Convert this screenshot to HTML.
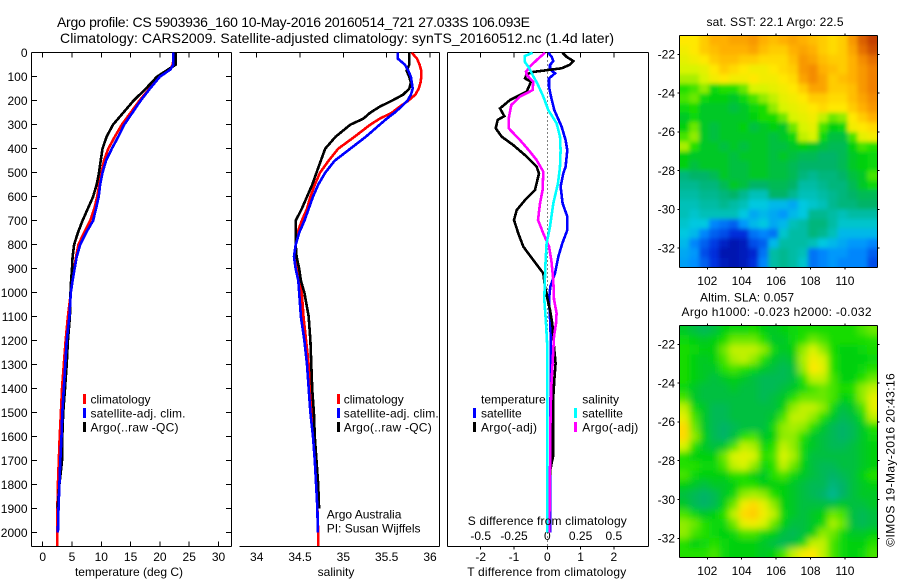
<!DOCTYPE html>
<html lang="en">
<head>
<meta charset="utf-8">
<title>Argo profile chart</title>
<style>
  html, body { margin: 0; padding: 0; background: #fff; }
  body { width: 900px; height: 580px; overflow: hidden; }
  svg { display: block; font-family: "Liberation Sans", sans-serif; fill: #000; }
  text { font-size: 12px; fill: #000; }
  .title { font-size: 14px; }
  .frame { stroke: #000; stroke-width: 1; shape-rendering: crispEdges; fill: none; }
</style>
</head>
<body>
<svg id="chart" xmlns="http://www.w3.org/2000/svg" width="900" height="580" viewBox="0 0 900 580">
  <rect x="0" y="0" width="900" height="580" fill="#fff"/>

  <text class="title" x="57" y="27" textLength="473">Argo profile: CS 5903936_160 10-May-2016 20160514_721 27.033S 106.093E</text>
  <text class="title" x="60" y="43" textLength="554">Climatology: CARS2009. Satellite-adjusted climatology: synTS_20160512.nc (1.4d later)</text>

  <g id="temp-panel"></g>
  <g id="sal-panel"></g>
  <g id="diff-panel"></g>

  <clipPath id="sst-clip"><rect x="679.5" y="35.5" width="198" height="232"/></clipPath>
  <clipPath id="sla-clip"><rect x="679.5" y="325.5" width="198" height="232"/></clipPath>
  <filter id="sst-blur" filterUnits="userSpaceOnUse" x="640" y="0" width="260" height="300"><feGaussianBlur stdDeviation="2.2"/></filter>
  <filter id="sla-blur" filterUnits="userSpaceOnUse" x="640" y="290" width="260" height="290"><feGaussianBlur stdDeviation="3.5"/></filter>
  <g clip-path="url(#sst-clip)"><g id="sst-cells" filter="url(#sst-blur)"></g></g>
  <g clip-path="url(#sla-clip)"><g id="sla-cells" filter="url(#sla-blur)"></g></g>
  <g id="map-axes"></g>

  <!-- temperature legend -->
  <g>
    <rect x="83" y="394" width="3" height="10" fill="#ff0000"/>
    <text x="90.5" y="403.3">climatology</text>
    <rect x="83" y="408" width="3" height="10" fill="#0000ff"/>
    <text x="90.5" y="417.3" textLength="95">satellite-adj. clim.</text>
    <rect x="83" y="422" width="3" height="10" fill="#000"/>
    <text x="90.5" y="431.3" textLength="88">Argo(..raw -QC)</text>
  </g>

  <!-- salinity legend -->
  <g>
    <rect x="337" y="394" width="3" height="10" fill="#ff0000"/>
    <text x="343.7" y="403.3">climatology</text>
    <rect x="337" y="408" width="3" height="10" fill="#0000ff"/>
    <text x="343.7" y="417.3" textLength="95">satellite-adj. clim.</text>
    <rect x="337" y="422" width="3" height="10" fill="#000"/>
    <text x="343.7" y="431.3" textLength="88">Argo(..raw -QC)</text>
    <text x="326.7" y="518.3">Argo Australia</text>
    <text x="326.7" y="532.3">PI: Susan Wijffels</text>
  </g>

  <!-- difference legend -->
  <g>
    <text x="481" y="403.3">temperature</text>
    <rect x="473" y="408" width="3" height="10" fill="#0000ff"/>
    <text x="481" y="417.3">satellite</text>
    <rect x="473" y="422" width="3" height="10" fill="#000"/>
    <text x="481" y="431.3" textLength="56">Argo(-adj)</text>
    <text x="582.3" y="403.3">salinity</text>
    <rect x="574" y="408" width="3" height="10" fill="#00ffff"/>
    <text x="582.3" y="417.3">satellite</text>
    <rect x="574" y="422" width="3" height="10" fill="#ff00ff"/>
    <text x="582.3" y="431.3" textLength="56">Argo(-adj)</text>
  </g>

  <text x="129" y="576" text-anchor="middle">temperature (deg C)</text>
  <text x="336" y="576" text-anchor="middle">salinity</text>
  <text x="547.3" y="525" text-anchor="middle" textLength="159">S difference from climatology</text>
  <text x="546.7" y="576" text-anchor="middle" textLength="159">T difference from climatology</text>

  <text x="775" y="26" text-anchor="middle" textLength="137">sat. SST: 22.1 Argo: 22.5</text>
  <text x="747" y="301.5" text-anchor="middle" textLength="94">Altim. SLA: 0.057</text>
  <text x="776.5" y="316" text-anchor="middle" textLength="190">Argo h1000: -0.023 h2000: -0.032</text>
  <text transform="translate(894.3,546.7) rotate(-90)" textLength="173.4">©IMOS 19-May-2016 20:43:16</text>
</svg>

<script>
// ---------- profile data ----------
const tempDepths = [0,25,50,70,100,150,200,250,300,350,400,450,500,550,600,650,700,750,800,850,900,950,1000,1100,1200,1300,1400,1500,1600,1700,1800,1900,2000];
const tempClimatology = [22.3,22.3,22.2,21.7,20,18.2,16.5,15,13.5,12.3,11.2,10.45,10.05,9.65,9.3,8.8,8.1,7.05,6.1,5.7,5.35,5.05,4.8,4.3,3.9,3.6,3.3,3.1,2.9,2.75,2.6,2.5,2.45];
const tempSatellite = [22.3,22.3,22.3,21.8,20,18.3,16.7,15.3,13.9,12.9,11.8,10.8,10.2,9.8,9.55,9.1,8.6,7.4,6.4,5.8,5.45,5.1,4.8,4.55,4.1,3.85,3.6,3.35,3.2,3,2.85,2.7,2.6];
const tempArgo = [22.7,22.7,22.7,21.4,19.5,17.6,15.5,13.75,12,10.9,10.2,9.9,9.6,9.2,8.6,7.7,6.8,6,5.35,5.1,5,4.85,4.75,4.65,4.3,4.1,3.8,3.5,3.35,3.3,2.85,2.55];
const tempClimEndDepth = 2055;
const tempClimEndValue = 2.45;

const salDepths = [0,25,50,75,100,125,150,175,200,225,250,275,300,350,400,450,500,550,600,650,700,750,800,850,900,950,1000,1100,1200,1300,1400,1500,1600,1700,1800,1900,2000];
const salClimatology = [35.79,35.85,35.88,35.9,35.9,35.89,35.87,35.83,35.75,35.65,35.56,35.42,35.31,35.13,34.94,34.83,34.73,34.67,34.62,34.58,34.52,34.47,34.45,34.45,34.48,34.5,34.52,34.54,34.57,34.6,34.62,34.635,34.66,34.68,34.69,34.7,34.71];
const salSatellite = [35.63,35.63,35.71,35.75,35.78,35.79,35.8,35.78,35.74,35.67,35.59,35.5,35.42,35.26,35.08,34.9,34.79,34.71,34.65,34.6,34.55,34.49,34.45,34.43,34.45,34.48,34.49,34.51,34.55,34.58,34.6,34.62,34.65,34.67,34.685,34.7,34.705];
const salArgo = [35.76,35.76,35.76,35.73,35.76,35.78,35.76,35.69,35.56,35.42,35.31,35.23,35.08,34.91,34.79,34.74,34.69,34.64,34.58,34.52,34.45,34.45,34.45,34.46,34.49,34.51,34.55,34.6,34.62,34.63,34.64,34.66,34.67,34.69,34.71,34.72];
const salClimEndDepth = 2055;
const salClimEndValue = 34.71;

const diffTArgoDepths = [0,17,35,50,65,80,90,107,121,162,197,232,264,280,315,350,385,433,475,503,572,614,656,697,753,808,864,919,975,1028,1072,1128,1225,1294,1364,1433,1503,1572,1683,1711,1739,1800,1900];
const diffTArgo = [0.45,0.58,0.78,0.68,0.43,-0.42,-0.62,-0.67,-0.49,-0.62,-1.12,-1.42,-1.29,-1.49,-1.55,-1.37,-1.02,-0.62,-0.32,-0.25,-0.37,-0.67,-0.92,-1,-0.87,-0.72,-0.42,-0.12,-0.07,0.01,0.08,0.15,0.2,0.25,0.21,0.18,0.17,0.17,0.17,0.13,0.09,0.06,0.05];
const diffTSatDepths = [0,17,35,51,69,86,107,142,183,239,308,364,406,475,503,558,628,683,739,794,850,919,975,1028,1128,1225,1364,1475,1572,1711,1850,2000];
const diffTSat = [0.03,0.13,0.18,0.08,0.08,0.23,0.05,0.05,0.11,0.21,0.43,0.55,0.6,0.55,0.48,0.4,0.46,0.6,0.6,0.45,0.33,0.23,0.09,0.05,0.09,0.11,0.11,0.09,0.09,0.09,0.09,0.09];
const diffSArgoDepths = [0,31,58,79,93,121,156,183,218,274,315,364,406,447,496,572,628,697,753,808,864,947,1028,1086,1128,1183,1294,1392,1503,1614,1697,1781,2000];
const diffSArgo = [-0.0175,-0.08,-0.13,-0.16,-0.155,-0.105,-0.11,-0.205,-0.27,-0.29,-0.29,-0.205,-0.14,-0.08,-0.03,-0.035,-0.055,-0.07,-0.03,0.0125,0.03,0.045,0.05,0.07,0.065,0.05,0.04,0.03,0.025,0.022,0.022,0.018,0.015];
const diffSSatDepths = [0,14,37,65,93,128,183,239,294,350,406,475,544,628,725,794,892,1028,1128,1225,1500,2000];
const diffSSat = [-0.11,-0.17,-0.17,-0.135,-0.11,-0.075,-0.03,0.0075,0.07,0.095,0.1,0.095,0.08,0.045,0.02,-0.005,-0.015,-0.0225,-0.01,0,0,0];

// ---------- tick labels ----------
const depthTicks = [0,100,200,300,400,500,600,700,800,900,1000,1100,1200,1300,1400,1500,1600,1700,1800,1900,2000];
const tempTicks = [0,5,10,15,20,25,30];
const salTicks = [34,34.5,35,35.5,36];
const diffTTicks = [-2,-1,0,1,2];
const diffSTicks = [-0.5,-0.25,0,0.25,0.5];
const mapLonTicks = [102,104,106,108,110];
const mapLatTicks = [-22,-24,-26,-28,-30,-32];

// ---------- map data (colour index 0-100, rows north to south) ----------
const sstGrid = [
[74,74,78,82,82,84,84,86,82,80,82,84,82,80,78,76,78,86,94,98],
[72,74,78,80,82,82,82,84,80,78,78,82,84,82,78,76,78,84,92,96],
[70,72,74,78,80,80,78,78,76,76,76,80,86,84,80,78,78,82,88,92],
[68,68,70,74,78,76,74,72,72,74,76,78,86,88,82,80,78,82,86,90],
[64,64,68,72,74,72,72,74,72,72,74,76,84,88,84,78,80,82,86,90],
[56,58,62,54,56,56,60,68,68,70,72,74,78,84,84,78,78,80,86,90],
[58,60,54,52,52,50,54,58,62,66,70,72,74,78,78,76,76,80,84,88],
[54,55,50,50,50,48,50,54,55,62,68,70,72,74,76,74,74,78,82,86],
[50,54,50,50,50,50,50,52,55,55,60,68,70,72,66,60,62,74,78,82],
[52,60,50,48,50,50,52,48,50,52,50,60,68,70,58,52,54,72,74,76],
[58,62,50,48,50,50,50,50,50,48,50,54,66,68,54,48,48,58,70,72],
[64,56,50,50,48,50,48,50,50,48,48,50,52,50,48,46,46,52,58,56],
[52,50,50,50,50,48,50,50,50,48,50,48,46,46,44,44,46,50,52,54],
[52,48,50,50,50,48,48,50,50,48,48,46,44,44,44,44,46,50,52,54],
[42,44,44,46,50,48,48,50,50,48,48,46,42,40,42,42,44,48,50,58],
[40,40,42,42,46,50,48,44,44,46,46,44,38,38,40,42,42,46,50,54],
[38,38,40,40,42,44,40,36,36,44,44,40,36,36,38,40,42,44,46,46],
[36,36,38,38,40,38,36,32,32,30,30,28,32,34,36,40,42,42,44,44],
[36,34,36,36,36,36,32,28,30,28,26,30,32,40,40,38,36,38,38,38],
[34,32,32,24,22,20,26,30,32,28,30,36,38,42,42,38,34,34,34,34],
[32,30,24,20,18,14,14,22,24,22,34,38,38,42,40,36,30,30,30,30],
[30,24,20,16,10,6,8,18,20,30,38,38,38,36,32,30,28,26,26,24],
[28,26,18,14,6,6,8,12,22,38,40,38,36,22,24,26,26,24,24,20],
[27,25,20,15,8,6,8,14,24,38,40,38,34,22,24,26,24,24,24,18]
];
const slaGrid = [
[50,48,46,48,52,54,54,55,52,50,52,54,55,55,55,55,55,55,58,60],
[54,52,50,52,55,60,60,60,56,50,50,54,56,60,58,55,55,55,55,56],
[55,54,52,52,60,66,66,66,62,54,50,52,62,68,62,55,52,52,54,55],
[55,52,50,52,58,64,66,62,56,50,48,50,64,72,68,56,52,52,52,54],
[55,52,50,50,56,58,56,54,50,48,46,48,62,74,70,56,52,52,54,56],
[55,52,50,48,50,52,50,48,46,46,46,48,56,66,66,58,52,52,56,60],
[54,50,48,48,48,50,48,48,46,46,48,50,54,58,60,58,55,56,62,66],
[58,50,48,48,48,48,48,48,46,48,50,56,60,60,60,58,52,54,62,70],
[66,54,50,46,46,48,48,48,48,48,52,62,66,66,62,54,48,50,58,70],
[70,58,50,46,46,48,48,48,48,50,58,66,66,62,56,50,46,48,54,66],
[76,60,50,46,44,46,48,48,48,54,62,64,62,56,50,46,44,46,50,56],
[76,62,52,46,44,48,56,58,50,52,62,62,56,50,48,46,44,46,50,54],
[68,56,50,48,50,58,66,64,54,56,66,62,54,50,48,46,46,48,50,52],
[56,52,52,52,60,68,70,68,56,58,68,64,54,48,48,48,48,48,50,52],
[56,56,54,54,58,66,68,62,54,56,66,60,52,48,46,46,48,48,50,52],
[58,54,52,52,52,56,56,52,50,56,58,54,50,48,46,44,46,48,52,56],
[52,50,48,50,50,52,56,56,52,52,52,50,48,46,46,42,44,48,50,52],
[48,46,44,46,50,54,62,64,62,56,52,50,48,46,44,40,44,48,50,50],
[50,46,44,46,52,60,72,76,70,62,52,50,48,48,48,48,50,48,48,50],
[58,54,50,52,56,66,76,78,72,66,54,50,48,50,52,60,58,48,46,48],
[62,60,56,54,54,60,70,72,68,60,52,48,48,50,54,64,60,48,46,48],
[62,58,56,54,52,54,58,58,54,52,48,46,48,52,62,60,54,50,50,52],
[56,52,54,56,54,52,52,52,50,48,46,48,54,66,66,58,54,52,52,56],
[56,56,56,58,54,52,52,52,50,52,58,66,72,74,66,58,54,52,54,58]
];
const colorStopValues = [0,15,25,32,40,44,48,52,56,62,68,74,82,90,100];
const colorStopHex = ['#000090','#0030e0','#0090ff','#00c8e0','#00b890','#00b468','#00c040','#00d010','#20e000','#90ec00','#d8f400','#ffe800','#ffb000','#f08000','#b83000'];

// ---------- scales ----------
const yDepth = d => 52.7 + d * 0.24;
const xTemp = t => 42.7 + t * 5.86;
const xSal = s => 256.7 + (s - 34) * 86.65;
const xDiffT = t => 547.3 + t * 33.3;
const xDiffS = s => 547.3 + s * 133.2;
const xLon = lon => 707.3 + (lon - 102) * 17.2;
const ySst = lat => 54.3 + (-22 - lat) * 19.37;
const ySla = lat => 344.3 + (-22 - lat) * 19.4;
const lonWest = 100.37, lonEast = 111.88, latNorth = -21.02, latSouth = -33;

const NS = 'http://www.w3.org/2000/svg';
const root = document.getElementById('chart');
const tempPanel = document.getElementById('temp-panel');
const salPanel = document.getElementById('sal-panel');
const diffPanel = document.getElementById('diff-panel');
const mapAxes = document.getElementById('map-axes');

function line(parent, x1, y1, x2, y2) {
  const el = document.createElementNS(NS, 'line');
  el.setAttribute('x1', x1); el.setAttribute('y1', y1);
  el.setAttribute('x2', x2); el.setAttribute('y2', y2);
  el.setAttribute('stroke', '#000');
  el.setAttribute('shape-rendering', 'crispEdges');
  parent.appendChild(el);
  return el;
}
function label(parent, x, y, str, anchor) {
  const el = document.createElementNS(NS, 'text');
  el.setAttribute('x', x); el.setAttribute('y', y);
  el.setAttribute('text-anchor', anchor);
  el.textContent = str;
  parent.appendChild(el);
  return el;
}
function profile(parent, xf, values, depths, color) {
  const el = document.createElementNS(NS, 'polyline');
  el.setAttribute('points', values.map((v, i) => xf(v).toFixed(1) + ',' + yDepth(depths[i]).toFixed(1)).join(' '));
  el.setAttribute('fill', 'none');
  el.setAttribute('stroke', color);
  el.setAttribute('stroke-width', '2.6');
  el.setAttribute('shape-rendering', 'crispEdges');
  parent.appendChild(el);
  return el;
}
function markTick(el) {
  
  
}
function markLabel(el) {
  
  
}
function markFrame(el) {
  
  
}
function markLine(el, name) {
  
  
}

const plotTop = 52.5, plotBottom = 546.5;

// temperature panel frame and axes
[[31.5,plotTop,231.5,plotTop],[31.5,plotBottom,231.5,plotBottom],[31.5,plotTop,31.5,plotBottom],[231.5,plotTop,231.5,plotBottom]].forEach(s => markFrame(line(tempPanel, s[0], s[1], s[2], s[3])));
depthTicks.forEach(d => {
  markTick(line(tempPanel, 31.5, yDepth(d), 37, yDepth(d)));
  markTick(line(tempPanel, 226, yDepth(d), 231.5, yDepth(d)));
  markLabel(label(tempPanel, 27.5, yDepth(d) + 4.3, String(d), 'end'));
});
tempTicks.forEach(t => {
  markTick(line(tempPanel, xTemp(t), plotTop, xTemp(t), plotTop + 5));
  markTick(line(tempPanel, xTemp(t), plotBottom - 5, xTemp(t), plotBottom));
  markLabel(label(tempPanel, xTemp(t), 561, String(t), 'middle'));
});
markLine(profile(tempPanel, xTemp, tempClimatology.concat([tempClimEndValue]), tempDepths.concat([tempClimEndDepth]), '#ff0000'), 'temperature-climatology-line');
markLine(profile(tempPanel, xTemp, tempArgo, tempDepths, '#000000'), 'temperature-argo-line');
markLine(profile(tempPanel, xTemp, tempSatellite, tempDepths, '#0000ff'), 'temperature-satellite-line');

// salinity panel (no left edge in the reference)
[[239.5,plotTop,439.5,plotTop],[239.5,plotBottom,439.5,plotBottom],[439.5,plotTop,439.5,plotBottom]].forEach(s => markFrame(line(salPanel, s[0], s[1], s[2], s[3])));
salTicks.forEach(s => {
  markTick(line(salPanel, xSal(s), plotTop, xSal(s), plotTop + 5));
  markLabel(label(salPanel, xSal(s), 561, String(s), 'middle'));
});
markLine(profile(salPanel, xSal, salClimatology.concat([salClimEndValue]), salDepths.concat([salClimEndDepth]), '#ff0000'), 'salinity-climatology-line');
markLine(profile(salPanel, xSal, salArgo, salDepths, '#000000'), 'salinity-argo-line');
markLine(profile(salPanel, xSal, salSatellite, salDepths, '#0000ff'), 'salinity-satellite-line');

// difference panel
[[447.5,plotTop,648.5,plotTop],[447.5,plotBottom,648.5,plotBottom],[447.5,plotTop,447.5,plotBottom],[648.5,plotTop,648.5,plotBottom]].forEach(s => markFrame(line(diffPanel, s[0], s[1], s[2], s[3])));
const zeroLine = line(diffPanel, xDiffT(0), plotTop, xDiffT(0), plotBottom);
zeroLine.setAttribute('stroke-dasharray', '1 3');


diffTTicks.forEach(t => {
  markTick(line(diffPanel, xDiffT(t), plotTop, xDiffT(t), plotTop + 5));
  markTick(line(diffPanel, xDiffT(t), plotBottom, xDiffT(t), plotBottom + 3));
  markLabel(label(diffPanel, xDiffT(t), 561, String(t), 'middle'));
});
diffSTicks.forEach(s => {
  markLabel(label(diffPanel, xDiffS(s), 540, String(s), 'middle'));
});
markLine(profile(diffPanel, xDiffT, diffTSat, diffTSatDepths, '#0000ff'), 't-difference-satellite-line');
markLine(profile(diffPanel, xDiffT, diffTArgo, diffTArgoDepths, '#000000'), 't-difference-argo-line');
markLine(profile(diffPanel, xDiffS, diffSArgo, diffSArgoDepths, '#ff00ff'), 's-difference-argo-line');
markLine(profile(diffPanel, xDiffS, diffSSat, diffSSatDepths, '#00ffff'), 's-difference-satellite-line');

// colour map
function hexRgb(h) {
  return [parseInt(h.slice(1, 3), 16), parseInt(h.slice(3, 5), 16), parseInt(h.slice(5, 7), 16)];
}
function colorFor(v) {
  let i = 0;
  while (i < colorStopValues.length - 2 && v > colorStopValues[i + 1]) i++;
  const t = Math.max(0, Math.min(1, (v - colorStopValues[i]) / (colorStopValues[i + 1] - colorStopValues[i])));
  const a = hexRgb(colorStopHex[i]), b = hexRgb(colorStopHex[i + 1]);
  return 'rgb(' + a.map((c, k) => Math.round(c + (b[k] - c) * t)).join(',') + ')';
}
function drawMap(groupId, grid, yLat, cellName) {
  const g = document.getElementById(groupId);
  const nRows = grid.length, nCols = grid[0].length;
  const dLon = (lonEast - lonWest) / nCols, dLat = (latNorth - latSouth) / nRows;
  grid.forEach((row, r) => row.forEach((v, c) => {
    let x0 = xLon(lonWest + c * dLon), x1 = xLon(lonWest + (c + 1) * dLon);
    let y0 = yLat(latNorth - r * dLat), y1 = yLat(latNorth - (r + 1) * dLat);
    if (c === 0) x0 -= 14;
    if (c === nCols - 1) x1 += 14;
    if (r === 0) y0 -= 14;
    if (r === nRows - 1) y1 += 14;
    const cell = document.createElementNS(NS, 'rect');
    cell.setAttribute('x', x0.toFixed(1));
    cell.setAttribute('y', y0.toFixed(1));
    cell.setAttribute('width', (x1 - x0 + 0.6).toFixed(1));
    cell.setAttribute('height', (y1 - y0 + 0.6).toFixed(1));
    cell.setAttribute('fill', colorFor(v));
    
    
    g.appendChild(cell);
  }));
}
drawMap('sst-cells', sstGrid, ySst, 'sst-cell');
drawMap('sla-cells', slaGrid, ySla, 'sla-cell');

// map axes
function drawMapAxes(top, bottom, yLat, labelBase) {
  [[679.5,top,877.5,top],[679.5,bottom,877.5,bottom],[679.5,top,679.5,bottom],[877.5,top,877.5,bottom]].forEach(s => markFrame(line(mapAxes, s[0], s[1], s[2], s[3])));
  mapLonTicks.forEach(lon => {
    markTick(line(mapAxes, xLon(lon), top - 2, xLon(lon), top));
    markTick(line(mapAxes, xLon(lon), bottom, xLon(lon), bottom + 2));
    markLabel(label(mapAxes, xLon(lon), labelBase, String(lon), 'middle'));
  });
  mapLatTicks.forEach(lat => {
    markTick(line(mapAxes, 677.5, yLat(lat), 679.5, yLat(lat)));
    markTick(line(mapAxes, 877.5, yLat(lat), 879.5, yLat(lat)));
    markLabel(label(mapAxes, 675, yLat(lat) + 4.3, String(lat), 'end'));
  });
}
drawMapAxes(35.5, 267.5, ySst, 285);
drawMapAxes(325.5, 557.5, ySla, 575);
</script>
</body>
</html>
